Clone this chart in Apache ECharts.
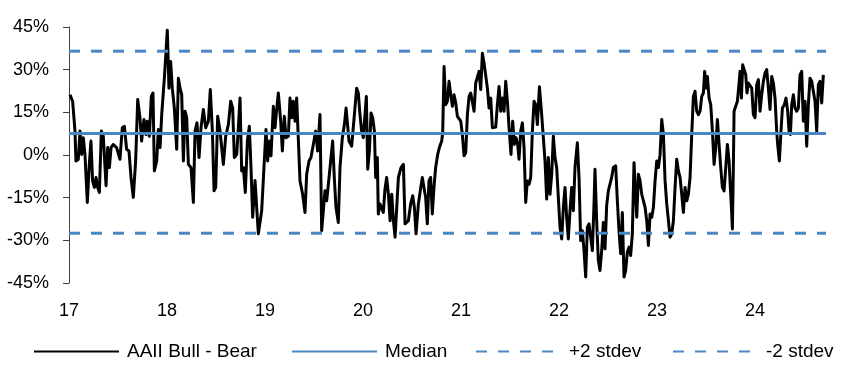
<!DOCTYPE html>
<html>
<head>
<meta charset="utf-8">
<script src="https://cdn.jsdelivr.net/npm/echarts@6/dist/echarts.min.js"></script>
<style>
html,body{margin:0;padding:0;background:#fff;}
#chart{width:852px;height:381px;}
</style>
</head>
<body>
<div id="chart"></div>
<script>
// Dates as decimal years (weekly-ish readings), values in %
const weekDates = [
 2017.010,2017.037,2017.061,2017.071,2017.095,2017.112,2017.129,2017.146,2017.163,2017.187,2017.207,2017.224,2017.241,2017.259,2017.276,2017.293,2017.310,2017.330,2017.350,2017.378,2017.395,2017.412,2017.429,2017.452,2017.486,2017.520,2017.544,2017.565,2017.588,2017.612,2017.633,2017.656,2017.680,2017.701,2017.724,2017.741,2017.765,2017.786,2017.799,2017.820,2017.840,2017.857,2017.871,2017.895,2017.912,2017.929,2017.946,2017.973,
 2018.003,2018.020,2018.037,2018.054,2018.075,2018.099,2018.116,2018.133,2018.150,2018.167,2018.184,2018.201,2018.218,2018.245,2018.269,2018.286,2018.306,2018.327,2018.347,2018.371,2018.395,2018.422,2018.442,2018.463,2018.480,2018.497,2018.517,2018.541,2018.575,2018.599,2018.626,2018.650,2018.670,2018.687,2018.711,2018.728,2018.745,2018.762,2018.779,2018.799,2018.820,2018.840,2018.857,2018.874,2018.898,2018.932,2018.966,
 2019.010,2019.027,2019.044,2019.061,2019.085,2019.102,2019.119,2019.136,2019.160,2019.177,2019.197,2019.214,2019.238,2019.255,2019.272,2019.289,2019.306,2019.323,2019.340,2019.357,2019.384,2019.408,2019.425,2019.449,2019.469,2019.493,2019.517,2019.537,2019.561,2019.578,2019.595,2019.612,2019.629,2019.650,2019.670,2019.690,2019.707,2019.724,2019.748,2019.765,2019.789,2019.810,2019.827,2019.857,2019.884,2019.912,2019.935,2019.952,2019.969,2019.986,
 2020.003,2020.020,2020.034,2020.048,2020.065,2020.082,2020.099,2020.116,2020.129,2020.146,2020.156,2020.173,2020.190,2020.207,2020.224,2020.241,2020.259,2020.276,2020.293,2020.310,2020.327,2020.344,2020.361,2020.388,2020.412,2020.429,2020.463,2020.486,2020.507,2020.524,2020.541,2020.565,2020.582,2020.605,2020.622,2020.639,2020.656,2020.673,2020.690,2020.707,2020.724,2020.741,2020.762,2020.779,2020.803,2020.813,2020.827,2020.844,2020.861,2020.878,2020.895,2020.912,2020.929,2020.946,2020.963,2020.980,2020.997,
 2021.014,2021.031,2021.048,2021.065,2021.082,2021.099,2021.116,2021.133,2021.150,2021.167,2021.184,2021.201,2021.218,2021.235,2021.252,2021.269,2021.286,2021.303,2021.320,2021.337,2021.354,2021.371,2021.388,2021.405,2021.422,2021.439,2021.456,2021.473,2021.490,2021.510,2021.527,2021.544,2021.561,2021.578,2021.592,2021.609,2021.626,2021.643,2021.660,2021.677,2021.694,2021.711,2021.728,2021.745,2021.762,2021.779,2021.800,2021.823,2021.840,2021.857,2021.874,2021.891,2021.908,2021.925,2021.942,2021.959,2021.976,2021.993,
 2022.010,2022.027,2022.044,2022.061,2022.078,2022.095,2022.112,2022.129,2022.146,2022.163,2022.187,2022.204,2022.221,2022.238,2022.255,2022.272,2022.289,2022.306,2022.323,2022.340,2022.357,2022.367,2022.384,2022.401,2022.418,2022.435,2022.452,2022.469,2022.486,2022.503,2022.520,2022.537,2022.554,2022.578,2022.595,2022.612,2022.629,2022.646,2022.663,2022.680,2022.697,2022.714,2022.731,2022.748,2022.765,2022.793,2022.810,2022.827,2022.844,2022.861,2022.878,2022.895,2022.912,2022.929,2022.946,2022.963,2022.980,2022.997,
 2023.014,2023.031,2023.048,2023.065,2023.082,2023.099,2023.116,2023.133,2023.150,2023.167,2023.184,2023.201,2023.218,2023.235,2023.252,2023.269,2023.286,2023.303,2023.320,2023.337,2023.354,2023.371,2023.388,2023.405,2023.422,2023.439,2023.456,2023.473,2023.486,2023.500,2023.514,2023.531,2023.548,2023.565,2023.582,2023.599,2023.616,2023.633,2023.650,2023.667,2023.684,2023.701,2023.718,2023.735,2023.748,2023.759,2023.769,2023.779,2023.786,2023.803,2023.820,2023.837,2023.847,2023.861,2023.874,2023.891,2023.905,2023.918,2023.932,2023.949,2023.966,2023.983,
 2024.000,2024.017,2024.034,2024.051,2024.068,2024.085,2024.102,2024.119,2024.136,2024.153,2024.170,2024.187,2024.204,2024.221,2024.231,2024.248,2024.265,2024.279,2024.299,2024.316,2024.333,2024.347,2024.361,2024.374,2024.391,2024.408,2024.425,2024.442,2024.459,2024.476,2024.493,2024.510,2024.527,2024.544,2024.561,2024.578,2024.595,2024.612,2024.629,2024.646,2024.663,2024.680,2024.697
];
const bullBear = [
 21.2,18.9,8.4,-2.1,-1.5,8.4,0.2,6.1,0.2,-16.7,-3.3,4.9,-9.1,-11.4,-7.9,-11.4,-13.2,8.4,6.6,-10.8,2.6,-4.4,2.6,3.7,2.6,-1.5,9.6,10.1,2.0,1.4,-7.9,-14.9,-2.1,19.5,13.1,4.9,12.5,7.2,11.9,6.6,20.6,21.8,-5.6,-2.1,9.0,2.6,14.2,27.0,
 43.9,23.5,32.9,23.5,16.5,2.0,27.0,23.5,21.2,-2.1,15.4,13.1,-3.3,-4.4,-16.7,8.4,11.3,-0.9,9.6,16.0,9.6,11.9,23.0,8.4,-12.6,-11.4,13.6,8.4,-3.3,6.6,10.7,18.9,16.5,-0.9,0.2,9.6,20.0,-5.6,-4.4,-13.2,4.9,10.1,-4.4,-21.9,-9.0,-27.7,-19.6,
 9.0,-2.1,4.9,-0.3,17.1,9.6,16.0,21.8,11.9,1.4,13.6,6.1,6.6,20.0,13.1,18.9,11.9,20.0,19.5,-9.1,-13.8,-20.2,-6.8,-2.1,-0.9,3.7,8.4,1.4,14.2,-26.6,-19.6,-12.6,-16.1,-9.1,-2.1,4.9,-7.9,-18.4,-23.7,-4.4,6.1,10.7,16.5,4.9,3.1,14.2,23.5,21.8,14.2,8.4,
 6.1,14.2,20.6,-5.0,1.4,14.8,13.1,8.4,-7.9,-0.9,-20.7,-17.2,-17.8,-20.2,-12.0,-7.9,-13.8,-23.1,-13.8,-23.1,-28.9,-18.4,-7.9,-4.4,-3.3,-24.2,-23.1,-17.2,-14.3,-18.4,-27.7,-17.2,-13.2,-7.9,-7.3,-14.9,-24.2,-9.1,-7.9,-20.7,-11.4,-4.4,0.2,2.6,4.9,8.0,31.1,17.7,18.9,25.9,21.2,17.1,21.2,18.3,13.6,13.1,11.9,
 7.2,-0.3,0.8,14.2,20.6,21.8,21.8,15.4,25.3,25.9,29.4,23.0,35.8,32.3,31.7,23.5,16.5,20.0,9.6,9.6,9.8,17.7,24.1,15.4,20.0,15.4,25.9,18.9,9.6,0.2,11.9,3.7,6.1,3.7,-1.5,8.4,11.3,2.6,-16.7,-9.1,-10.3,-7.9,8.4,18.9,17.7,10.7,24.0,14.2,6.1,-2.1,-15.5,-0.9,-13.8,-6.8,6.6,-0.9,-4.4,-14.9,
 -25.4,-29.5,-18.4,-11.4,-21.9,-29.5,-19.6,-11.4,-19.6,-4.4,4.3,-7.9,-30.1,-26.6,-33.6,-42.9,-25.4,-24.2,-24.5,-33.6,-17.2,-5.0,-23.1,-37.1,-40.6,-33.6,-23.7,-33.0,-17.8,-12.6,-12.0,-7.9,-4.4,-3.8,-16.1,-26.6,-34.7,-20.2,-42.9,-40.6,-34.1,-32.4,-35.3,-27.7,-2.7,-21.9,-6.8,-9.1,-13.8,-16.1,-18.4,-23.1,-31.8,-20.7,-21.9,-18.4,-9.1,-2.1,
 -4.4,0.2,12.5,7.2,-9.1,-17.2,-16.7,-28.9,-27.7,-23.1,-11.4,-1.5,-5.6,-7.9,-13.8,-20.2,-11.4,-16.1,-13.8,-7.9,7.2,20.6,22.4,15.4,14.2,15.4,20.6,21.8,29.4,23.5,27.6,20.0,17.7,8.4,-3.3,2.6,12.5,3.7,-4.4,-11.4,-12.6,-4.4,3.7,-2.1,-11.4,-18.4,-26.0,-3.3,15.4,16.0,18.9,25.3,29.4,20.0,31.7,31.7,28.2,21.8,25.3,24.7,23.5,14.2,
 13.1,24.7,26.5,15.4,21.2,25.9,28.8,30.0,23.5,16.0,27.6,25.3,20.0,8.4,3.7,-2.1,8.4,16.5,17.7,20.0,15.4,8.4,7.2,17.7,21.2,16.5,15.4,16.5,28.2,29.4,11.9,18.9,3.1,17.7,27.0,25.9,22.4,18.9,8.4,24.7,25.9,18.3,28.2
];
const medianValue = 7.6;
const plus2Stdev = 36.5;
const minus2Stdev = -27.5;
const xStart = 2017;
const xEnd = 2024.724;
const yTicks = [-45, -30, -15, 0, 15, 30, 45];
const xTickYears = [2017, 2018, 2019, 2020, 2021, 2022, 2023, 2024];
const seriesNames = ['AAII Bull - Bear', 'Median', '+2 stdev', '-2 stdev'];

const blue = '#4a86c4';
const font = 'Liberation Sans, Arial, sans-serif';
const chart = echarts.init(document.getElementById('chart'), null, {renderer: 'canvas'});

const mainData = weekDates.map((d, i) => [d, bullBear[i]]);
const flat = v => [[xStart, v], [xEnd, v]];

const legendLefts = [33, 291, 475, 672];
const legends = seriesNames.map((n, i) => ({
  data: [n], left: legendLefts[i], top: 342, padding: 0, itemWidth: 85, itemHeight: 14,
  itemStyle: {opacity: 0},
  textStyle: {fontFamily: font, fontSize: 19, color: '#000', padding: [0, 0, 0, 3]},
  selectedMode: false
}));

chart.setOption({
  animation: false,
  backgroundColor: '#fff',
  grid: {left: 69, right: 26, top: 27, bottom: 98, containLabel: false},
  legend: legends,
  xAxis: {
    type: 'value', min: xStart, max: xEnd, interval: 1,
    axisLine: {show: false}, axisTick: {show: false}, splitLine: {show: false},
    axisLabel: {
      margin: 19, fontFamily: font, fontSize: 18, color: '#000',
      showMaxLabel: false,
      formatter: v => xTickYears.indexOf(Math.round(v * 1000) / 1000) >= 0 ? String(v).slice(2) : ''
    }
  },
  yAxis: {
    type: 'value', min: yTicks[0], max: yTicks[yTicks.length - 1], interval: 15,
    axisLine: {show: true, lineStyle: {color: '#404040', width: 1}},
    axisTick: {show: true, inside: false, length: 6, lineStyle: {color: '#404040'}},
    splitLine: {show: false},
    axisLabel: {margin: 20, fontFamily: font, fontSize: 18, color: '#000', formatter: v => v + '%'}
  },
  series: [
    {name: seriesNames[0], type: 'line', data: mainData, showSymbol: false, symbol: 'none',
     lineStyle: {color: '#000', width: 3, join: 'round'}, itemStyle: {color: '#000'}},
    {name: seriesNames[1], type: 'line', data: flat(medianValue), symbol: 'none',
     lineStyle: {color: blue, width: 3}, itemStyle: {color: blue}},
    {name: seriesNames[2], type: 'line', data: flat(plus2Stdev), symbol: 'none',
     lineStyle: {color: blue, width: 3, type: [11, 11]}, itemStyle: {color: blue}},
    {name: seriesNames[3], type: 'line', data: flat(minus2Stdev), symbol: 'none',
     lineStyle: {color: blue, width: 3, type: [11, 11]}, itemStyle: {color: blue}}
  ]
});
</script>
</body>
</html>
